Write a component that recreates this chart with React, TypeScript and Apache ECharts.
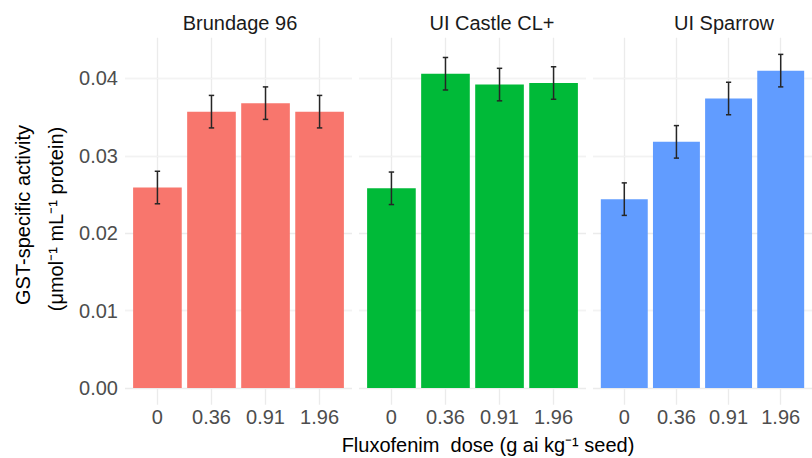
import React, { useEffect, useRef } from 'react';
import * as echarts from 'echarts';

const doses = ['0', '0.36', '0.91', '1.96'];
const cultivars = ['Brundage 96', 'UI Castle CL+', 'UI Sparrow'];
const brundageMean = [0.0259, 0.0357, 0.0368, 0.0357];
const brundageSE = [0.0021, 0.0021, 0.0021, 0.0021];
const castleMean = [0.0258, 0.0406, 0.0392, 0.0394];
const castleSE = [0.0021, 0.0021, 0.0021, 0.0021];
const sparrowMean = [0.0244, 0.0318, 0.0374, 0.041];
const sparrowSE = [0.0021, 0.0021, 0.0021, 0.0021];
const yTicks = [0, 0.01, 0.02, 0.03, 0.04];
const yMinorTicks = [0.005, 0.015, 0.025, 0.035, 0.045];
const colors = ['#F8766D', '#00BA38', '#619CFF'];
const yTitle1 = 'GST-specific activity';
const yTitle2 = '(\u03BCmol\u207B\u00B9 mL\u207B\u00B9 protein)';
const xTitle = 'Fluxofenim  dose (g ai kg\u207B\u00B9 seed)';

const FONT = '"Liberation Sans", Arial, sans-serif';

export default function App() {
  const ref = useRef<HTMLDivElement>(null);
  useEffect(() => {
    if (!ref.current) return;
    const chart = echarts.init(ref.current, null, { renderer: 'svg' });
    const means = [brundageMean, castleMean, sparrowMean];
    const ses = [brundageSE, castleSE, sparrowSE];
    let dataMax = 0;
    means.forEach((m, g) => m.forEach((v, i) => { dataMax = Math.max(dataMax, v + ses[g][i]); }));
    const expand = dataMax * 0.05;
    const yMin = -expand;
    const yMax = dataMax + expand;

    const panelLeft = [125, 359, 593];
    const panelWidth = 227;
    const panelTop = 37.7;
    const panelHeight = 367;

    const grid = panelLeft.map((l) => ({ left: l, top: panelTop, width: panelWidth, height: panelHeight }));
    const xAxis = panelLeft.map((_, g) => ({
      type: 'value',
      gridIndex: g,
      min: -0.6,
      max: 3.6,
      axisLine: { show: false },
      axisTick: { show: false, customValues: [0, 1, 2, 3] },
      axisLabel: {
        customValues: [0, 1, 2, 3],
        formatter: (v: number) => doses[Math.round(v)],
        fontSize: 20,
        color: '#4D4D4D',
        fontFamily: FONT,
        margin: 2,
      },
      splitLine: { show: true, lineStyle: { color: '#EBEBEB', width: 1.3 } },
    }));
    const yAxis = panelLeft.map((_, g) => ({
      type: 'value',
      gridIndex: g,
      min: yMin,
      max: yMax,
      axisLine: { show: false },
      axisTick: { show: false, customValues: yTicks },
      axisLabel: {
        show: g === 0,
        customValues: yTicks,
        formatter: (v: number) => v.toFixed(2),
        fontSize: 20,
        color: '#4D4D4D',
        fontFamily: FONT,
        margin: 7,
      },
      splitLine: { show: true, lineStyle: { color: '#EBEBEB', width: 1.3 } },
    }));

    const series: any[] = [];
    panelLeft.forEach((_, g) => {
      series.push({
        type: 'line',
        xAxisIndex: g,
        yAxisIndex: g,
        data: [],
        silent: true,
        z: 1,
        markLine: {
          silent: true,
          z: 1,
          symbol: 'none',
          label: { show: false },
          lineStyle: { color: '#F3F3F3', width: 0.9, type: 'solid' },
          data: yMinorTicks.map((v) => ({ yAxis: v })),
        },
      });
      series.push({
        type: 'custom',
        name: cultivars[g],
        xAxisIndex: g,
        yAxisIndex: g,
        z: 10,
        data: means[g].map((m, i) => [i, m, ses[g][i]]),
        encode: { x: 0, y: 1 },
        renderItem: (params: any, api: any) => {
          const x = api.value(0);
          const m = api.value(1);
          const se = api.value(2);
          const base = api.coord([x, 0]);
          const top = api.coord([x, m]);
          const w = api.size([0.9, 0])[0];
          const capW = api.size([0.1, 0])[0];
          const hi = api.coord([x, m + se]);
          const lo = api.coord([x, m - se]);
          const ls = { stroke: '#262626', lineWidth: 1.5 };
          return {
            type: 'group',
            children: [
              {
                type: 'rect',
                shape: { x: base[0] - w / 2, y: top[1], width: w, height: base[1] - top[1] },
                style: { fill: colors[g] },
              },
              { type: 'line', shape: { x1: hi[0], y1: hi[1], x2: lo[0], y2: lo[1] }, style: ls },
              { type: 'line', shape: { x1: hi[0] - capW / 2, y1: hi[1], x2: hi[0] + capW / 2, y2: hi[1] }, style: ls },
              { type: 'line', shape: { x1: lo[0] - capW / 2, y1: lo[1], x2: lo[0] + capW / 2, y2: lo[1] }, style: ls },
            ],
          };
        },
      });
    });

    const stripX = [240, 492, 724];
    const graphic: any[] = cultivars.map((c, g) => ({
      type: 'text',
      x: stripX[g],
      y: 23,
      style: { text: c, fontSize: 20, fill: '#1A1A1A', fontFamily: FONT, align: 'center', verticalAlign: 'middle' },
    }));
    graphic.push({
      type: 'text',
      x: 23,
      y: 215,
      rotation: Math.PI / 2,
      style: { text: yTitle1, fontSize: 20, fill: '#000', fontFamily: FONT, align: 'center', verticalAlign: 'middle' },
    });
    graphic.push({
      type: 'text',
      x: 56,
      y: 219,
      rotation: Math.PI / 2,
      style: { text: yTitle2, fontSize: 20, fill: '#000', fontFamily: FONT, align: 'center', verticalAlign: 'middle' },
    });
    graphic.push({
      type: 'text',
      x: 488,
      y: 445,
      style: { text: xTitle, fontSize: 20, fill: '#000', fontFamily: FONT, align: 'center', verticalAlign: 'middle' },
    });

    chart.setOption({
      animation: false,
      backgroundColor: '#fff',
      grid,
      xAxis,
      yAxis,
      series,
      graphic,
    });
    return () => chart.dispose();
  }, []);
  return <div ref={ref} style={{ position: 'absolute', left: 0, top: 0, width: 812, height: 458 }} />;
}
